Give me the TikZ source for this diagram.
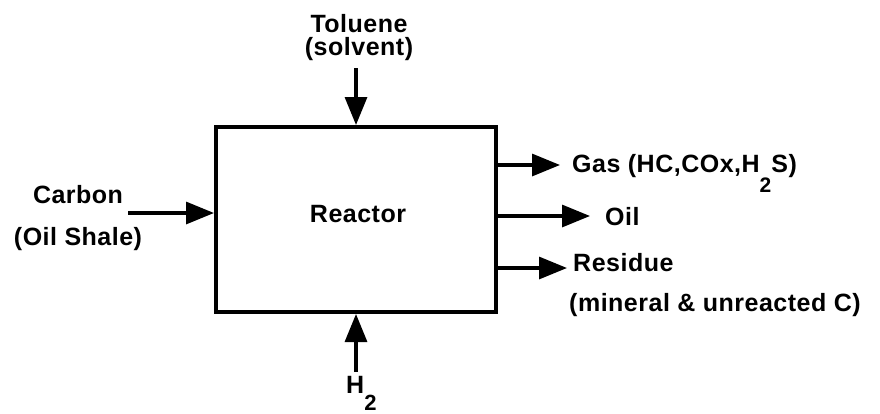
\documentclass[tikz,border=0pt]{standalone}
\usepackage{fontspec}
\setmainfont{Liberation Sans}[LetterSpace=2]
\usetikzlibrary{arrows.meta}
\newcommand\lowtwo[2]{\raisebox{-#1}{\fontsize{#2}{#2}\selectfont 2}}
\begin{document}
\begin{tikzpicture}[x=1pt,y=-1pt,
  lbl/.style={font=\fontsize{25}{23}\selectfont\bfseries, inner sep=0pt, align=center},
  flow/.style={line width=3.2pt, -{Triangle[length=28pt,width=22pt]}},
  reactorbox/.style={draw, line width=4pt, minimum width=280pt, minimum height=185pt, inner sep=0pt}]
\useasboundingbox (0,0) rectangle (880,413);
\node[reactorbox] (R) at (356,219.5) {};
\node[lbl, anchor=base] (rt) at (358,222) {Reactor};
% Toluene
\node[lbl, anchor=base] (tol) at (359,55) {Toluene\\(solvent)};
\coordinate (tin) at (356,68);
\draw[flow] (tin) -- (tin |- R.north);
% Carbon
\node[lbl, anchor=base] (c1) at (78,203) {Carbon};
\node[lbl, anchor=base] (c2) at (78,245) {(Oil Shale)};
\coordinate (cin) at (128,213);
\draw[flow] (cin) -- (cin -| R.west);
% H2
\node[lbl, anchor=base west] (h2) at (346,393) {H\lowtwo{17pt}{22}};
\coordinate (hin) at (356,372);
\draw[flow] (hin) -- (hin |- R.south);
% outputs
\coordinate (gout) at (560,165);
\coordinate (oout) at (590,216);
\coordinate (rout) at (567,268);
\draw[flow] (gout -| R.east) -- (gout);
\draw[flow] (oout -| R.east) -- (oout);
\draw[flow] (rout -| R.east) -- (rout);
\node[lbl, anchor=base west] (gas) at (572,172) {Gas (HC,COx,H\lowtwo{20pt}{21}S)};
\node[lbl, anchor=base west] (oil) at (605,225) {Oil};
\node[lbl, anchor=base west] (res1) at (573,271) {Residue};
\node[lbl, anchor=base west] (res2) at (569,311) {(mineral \& unreacted C)};
\end{tikzpicture}
\end{document}
